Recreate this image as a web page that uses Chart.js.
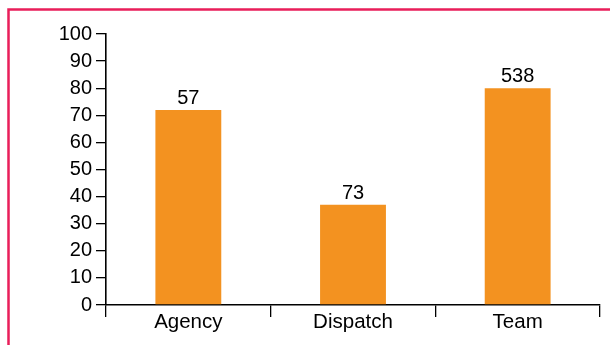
<!DOCTYPE html>
<html>
<head>
<meta charset="utf-8">
<script src="https://cdn.jsdelivr.net/npm/chart.js@4"></script>
<style>
  html, body { margin: 0; padding: 0; background: #fff; }
  #wrap { width: 610px; height: 345px; position: relative; }
</style>
</head>
<body>
<div id="wrap"><canvas id="chart" width="610" height="345"></canvas></div>
<script>
// Share of each unit (bar height, %) and the count shown above each bar
const categories = ['Agency', 'Dispatch', 'Team'];
const shares = [72, 37, 80];
const counts = ['57', '73', '538'];
const yTicks = [0, 10, 20, 30, 40, 50, 60, 70, 80, 90, 100];

const FONT = '"Liberation Sans", Arial, Helvetica, sans-serif';

// Pink frame along the top and left edges
const framePlugin = {
  id: 'frame',
  beforeDraw(chart) {
    const ctx = chart.ctx;
    ctx.save();
    ctx.strokeStyle = '#e91e5a';
    ctx.lineWidth = 2.5;
    ctx.beginPath();
    ctx.moveTo(8.5, 345);
    ctx.lineTo(8.5, 9.5);
    ctx.lineTo(610, 9.5);
    ctx.stroke();
    ctx.restore();
  }
};

// Count labels above the bars
const countLabels = {
  id: 'countLabels',
  afterDatasetsDraw(chart) {
    const ctx = chart.ctx;
    const meta = chart.getDatasetMeta(0);
    ctx.save();
    ctx.fillStyle = '#000';
    ctx.font = '20px ' + FONT;
    ctx.textAlign = 'center';
    ctx.textBaseline = 'alphabetic';
    meta.data.forEach((bar, i) => {
      ctx.fillText(counts[i], bar.x, bar.y - 6);
    });
    ctx.restore();
  }
};

new Chart(document.getElementById('chart'), {
  type: 'bar',
  data: {
    labels: categories,
    datasets: [{
      data: shares,
      backgroundColor: '#f39220',
      borderWidth: 0,
      barPercentage: 0.4,
      categoryPercentage: 1
    }]
  },
  options: {
    responsive: false,
    animation: false,
    layout: { padding: { top: 34, right: 10, bottom: 0, left: 0 } },
    plugins: {
      legend: { display: false },
      tooltip: { enabled: false }
    },
    scales: {
      x: {
        offset: true,
        grid: {
          offset: true,
          drawOnChartArea: false,
          drawTicks: true,
          tickLength: 12,
          color: '#000',
          lineWidth: 1.3
        },
        border: { color: '#000', width: 1.6 },
        ticks: { color: '#000', font: { family: FONT, size: 20.5 }, padding: -7 },
        afterFit(scale) { scale.height = 40; }
      },
      y: {
        min: 0,
        max: 100,
        afterBuildTicks(scale) { scale.ticks = yTicks.map(v => ({ value: v })); },
        grid: {
          drawOnChartArea: false,
          drawTicks: true,
          tickLength: 10,
          color: '#000',
          lineWidth: 1.3
        },
        border: { color: '#000', width: 1.6 },
        ticks: { color: '#000', font: { family: FONT, size: 20 }, padding: 4 },
        afterFit(scale) { scale.width = 106; }
      }
    }
  },
  plugins: [framePlugin, countLabels]
});
</script>
</body>
</html>
